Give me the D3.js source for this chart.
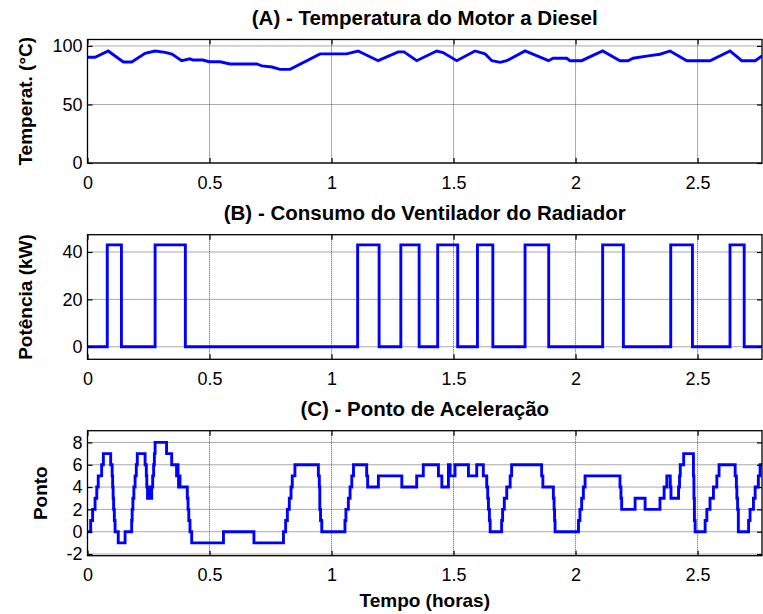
<!DOCTYPE html>
<html><head><meta charset="utf-8">
<script src="https://cdn.jsdelivr.net/npm/d3@7"></script>
<style>
body{margin:0;background:#fff}
svg{display:block}
text{font-family:"Liberation Sans",Arial,Helvetica,sans-serif;fill:#000}
</style>
</head><body>
<svg id="chart" width="763" height="614"></svg>
<script>
// ---- data (time in hours) ----
const tempTime = [0,0.031,0.085,0.147,0.181,0.236,0.277,0.318,0.346,0.386,0.420,0.432,0.473,0.498,0.543,0.584,0.693,0.715,0.756,0.789,0.830,0.953,1.062,1.109,1.191,1.273,1.297,1.349,1.431,1.457,1.513,1.588,1.629,1.657,1.691,1.718,1.793,1.889,1.908,1.964,1.977,2.025,2.111,2.182,2.215,2.236,2.305,2.346,2.387,2.456,2.551,2.633,2.681,2.736,2.764];
const tempValue = [90.3,90.3,95.7,86.3,86.3,93.7,95.7,94.5,93,87.4,89,88,88,86.5,86.5,84.6,84.6,83,82,80,80,93.2,93.2,95.7,87.4,94.9,94.9,87.4,95.7,94.3,87.4,95.7,93.2,87.4,86,87.4,95.7,87.4,89.5,89.5,87.4,87.4,95.7,87.4,87.4,89.5,91.7,92.9,95.7,87.4,87.4,95.7,87.4,87.4,91.5];

const fanTime  = [0,0.081,0.139,0.277,0.401,1.107,1.195,1.284,1.359,1.435,1.517,1.598,1.661,1.793,1.890,2.111,2.196,2.390,2.479,2.633,2.691];
const fanValue = [0,43,0,43,0,43,0,43,0,43,0,43,0,43,0,43,0,43,0,43,0];

const accTime = [0,0.013,0.021,0.031,0.038,0.044,0.058,0.065,0.095,0.101,0.103,0.105,0.107,0.110,0.113,0.126,0.154,0.181,0.183,0.186,0.190,0.195,0.200,0.204,0.236,0.241,0.243,0.246,0.250,0.252,0.255,0.257,0.263,0.267,0.271,0.274,0.277,0.324,0.345,0.365,0.368,0.371,0.373,0.375,0.379,0.409,0.412,0.415,0.420,0.427,0.557,0.682,0.803,0.812,0.819,0.827,0.834,0.839,0.850,0.946,0.950,0.952,0.955,0.960,1.055,1.059,1.069,1.076,1.083,1.090,1.144,1.148,1.192,1.288,1.349,1.376,1.438,1.452,1.479,1.486,1.506,1.561,1.595,1.622,1.636,1.640,1.643,1.647,1.650,1.697,1.701,1.708,1.718,1.732,1.738,1.861,1.866,1.909,1.912,1.914,1.916,2.012,2.018,2.025,2.032,2.039,2.182,2.186,2.189,2.244,2.285,2.346,2.363,2.374,2.388,2.391,2.422,2.426,2.429,2.443,2.483,2.485,2.487,2.490,2.531,2.538,2.551,2.565,2.579,2.588,2.654,2.659,2.661,2.664,2.667,2.709,2.715,2.729,2.736,2.749,2.756];
const accValue = [0,1,2,3,4,5,6,7,6,5,4,3,2,1,0,-1,0,1,2,3,4,5,6,7,6,5,4,3,4,3,4,3,4,5,6,7,8,7,6,5,6,5,4,5,4,3,2,1,0,-1,0,-1,0,1,2,3,4,5,6,5,4,2,1,0,1,2,3,4,5,6,5,4,5,4,5,6,5,4,6,5,6,5,6,5,4,3,2,1,0,1,2,3,4,5,6,5,4,3,2,1,0,1,2,3,4,5,4,3,2,3,2,3,4,5,4,3,4,5,6,7,5,3,1,0,1,2,3,4,5,6,5,4,3,2,0,1,2,3,4,5,6];

const timeEnd = 2.764;
const xTicks = [0,0.5,1,1.5,2,2.5];
const tempTicks = [0,50,100];
const fanTicks = [0,20,40];
const accTicks = [-2,0,2,4,6,8];
const titles = ["(A) - Temperatura do Motor a Diesel","(B) - Consumo do Ventilador do Radiador","(C) - Ponto de Aceleração"];
const yLabels = ["Temperat. (°C)","Potência (kW)","Ponto"];
const xLabel = "Tempo (horas)";

// ---- layout ----
const svg = d3.select("#chart");
const left = 87.5, right = 762;
const x = d3.scaleLinear().domain([0, timeEnd]).range([left, right]);
const fmt = d => String(d);

const panels = [
  {top:39.5, bottom:163, dom:[0,105.5], ticks:tempTicks, title:titles[0], ylab:yLabels[0], ylabX:25, ylabSize:19,
   pts: tempTime.map((t,i)=>[t,tempValue[i]]), step:false},
  {top:234.7, bottom:359.3, dom:[-5.3,47.3], ticks:fanTicks, title:titles[1], ylab:yLabels[1], ylabX:25, ylabSize:19,
   pts: fanTime.map((t,i)=>[t,fanValue[i]]).concat([[timeEnd, fanValue[fanValue.length-1]]]), step:true},
  {top:430.7, bottom:555.7, dom:[-2.15,9.05], ticks:accTicks, title:titles[2], ylab:yLabels[2], ylabX:40, ylabSize:19,
   pts: accTime.map((t,i)=>[t,accValue[i]]).concat([[timeEnd, accValue[accValue.length-1]]]), step:true}
];

panels.forEach((p, k) => {
  const y = d3.scaleLinear().domain(p.dom).range([p.bottom, p.top]);
  const g = svg.append("g");
  const clipId = "clip" + k;
  svg.append("defs").append("clipPath").attr("id", clipId)
    .append("rect").attr("x", left).attr("y", p.top).attr("width", right-left).attr("height", p.bottom-p.top);

  // grid
  g.append("g").selectAll("line").data(xTicks.filter(d=>d>0)).join("line")
    .attr("x1", d=>x(d)).attr("x2", d=>x(d)).attr("y1", p.top).attr("y2", p.bottom)
    .attr("stroke", "#555").attr("stroke-width", 1).attr("stroke-dasharray", "1,1");
  g.append("g").selectAll("line").data(p.ticks).join("line")
    .attr("x1", left).attr("x2", right).attr("y1", d=>y(d)).attr("y2", d=>y(d))
    .attr("stroke", "#555").attr("stroke-width", 1).attr("stroke-dasharray", "1,1");

  // data line
  const line = d3.line().x(d=>x(d[0])).y(d=>y(d[1]));
  if (p.step) line.curve(d3.curveStepAfter);
  g.append("path").attr("clip-path", `url(#${clipId})`)
    .attr("d", line(p.pts)).attr("fill", "none").attr("stroke", "#0000ff")
    .attr("stroke-width", 2.9).attr("stroke-linejoin", "miter");

  // axes (ticks inside)
  const axB = g.append("g").attr("transform", `translate(0,${p.bottom})`)
    .call(d3.axisBottom(x).tickValues(xTicks).tickSize(-5).tickSizeOuter(0).tickPadding(13).tickFormat(fmt));
  const axT = g.append("g").attr("transform", `translate(0,${p.top})`)
    .call(d3.axisTop(x).tickValues(xTicks).tickSize(-5).tickSizeOuter(0).tickFormat(""));
  const axL = g.append("g").attr("transform", `translate(${left},0)`)
    .call(d3.axisLeft(y).tickValues(p.ticks).tickSize(-5).tickSizeOuter(0).tickPadding(5).tickFormat(fmt));
  const axR = g.append("g").attr("transform", `translate(${right},0)`)
    .call(d3.axisRight(y).tickValues(p.ticks).tickSize(-5).tickSizeOuter(0).tickFormat(""));
  [axB, axT, axL, axR].forEach(a => {
    a.select(".domain").remove();
    a.selectAll("line").attr("stroke", "#000").attr("stroke-width", 1.2);
    a.selectAll("text").attr("font-size", 18).attr("font-family", '"Liberation Sans",Arial,sans-serif').attr("fill", "#000");
  });

  // frame
  g.append("rect").attr("x", left).attr("y", p.top).attr("width", right-left).attr("height", p.bottom-p.top)
    .attr("fill", "none").attr("stroke", "#000").attr("stroke-width", 1.3);

  // title
  g.append("text").attr("x", (left+right)/2).attr("y", p.top - 14.5)
    .attr("text-anchor", "middle").attr("font-weight", "bold").attr("font-size", 20.5).text(p.title);

  // y label
  const cy = (p.top + p.bottom)/2;
  g.append("text").attr("transform", `translate(${p.ylabX},${cy}) rotate(-90)`)
    .attr("text-anchor", "middle").attr("dy", "0.35em").attr("font-weight", "bold").attr("font-size", p.ylabSize).text(p.ylab);
});

svg.append("text").attr("x", (left+right)/2).attr("y", 606.5).attr("text-anchor", "middle")
  .attr("font-weight", "bold").attr("font-size", 19).text(xLabel);
</script>
</body></html>
